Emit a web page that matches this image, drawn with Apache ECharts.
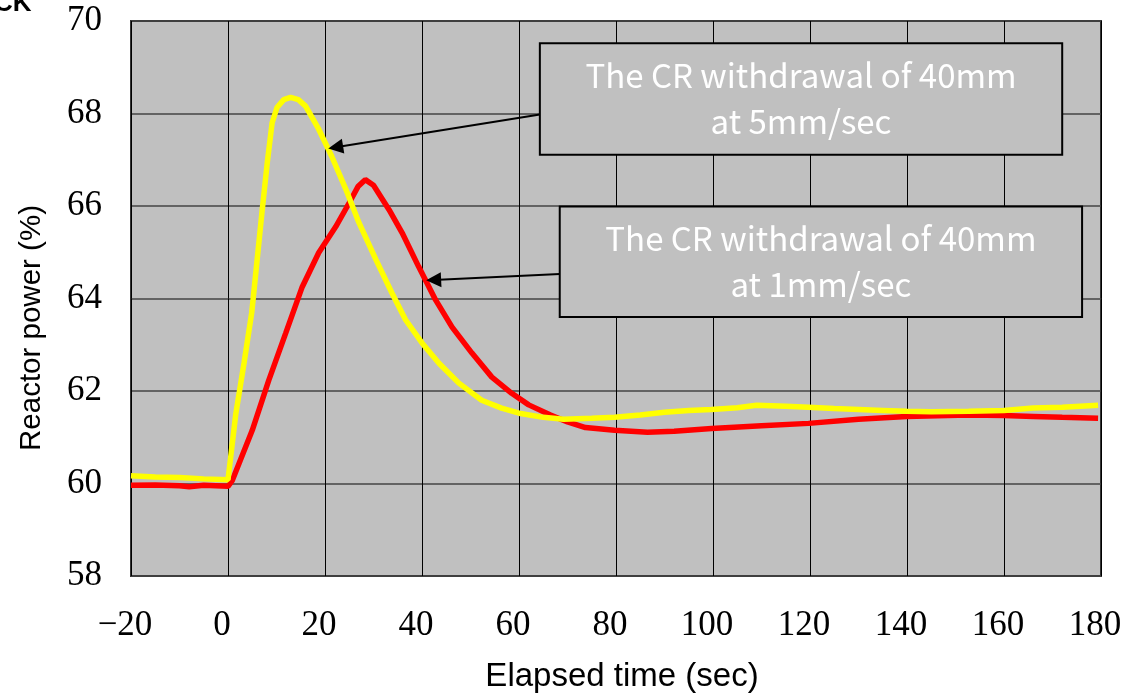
<!DOCTYPE html>
<html>
<head>
<meta charset="utf-8">
<script src="https://cdn.jsdelivr.net/npm/echarts@6/dist/echarts.min.js"></script>
<style>html,body{margin:0;padding:0;background:#fff;}#c{width:1127px;height:694px;}</style>
</head>
<body>
<div id="c"></div>
<script>
// ---- data ----
const xTicks = [-20, 0, 20, 40, 60, 80, 100, 120, 140, 160, 180];
const yTicks = [58, 60, 62, 64, 66, 68, 70];

const timeFast = [-20, -15, -10, -5, 0, 1.6, 3.3, 4.9, 7, 8.1, 9.1, 10.1, 11.5, 12.9, 14.5, 16, 18.7, 21.4, 24.3, 27, 30.5, 33.8, 36.6, 40, 43.5, 47.6, 52.3, 56.4, 60, 65, 69.2, 75, 79.7, 85, 90, 95, 99.7, 105, 109, 115, 119.7, 125, 130, 135, 139.9, 145, 152.7, 160, 166, 172, 179.4];
const powerFast = [60.17, 60.14, 60.13, 60.1, 60.08, 61.5, 62.6, 63.7, 65.86, 66.94, 67.8, 68.13, 68.3, 68.35, 68.3, 68.16, 67.66, 67.07, 66.36, 65.64, 64.84, 64.12, 63.54, 63.04, 62.6, 62.17, 61.8, 61.63, 61.52, 61.43, 61.39, 61.41, 61.43, 61.48, 61.54, 61.58, 61.6, 61.64, 61.69, 61.67, 61.65, 61.62, 61.6, 61.58, 61.56, 61.55, 61.56, 61.58, 61.63, 61.65, 61.69];

const timeSlow = [-20, -15, -10, -8, -5, 0, 0.9, 5, 8.4, 11.9, 15.3, 18.7, 22.2, 25, 26.8, 28.3, 30, 33.2, 35.9, 39.3, 42.8, 46.2, 50.3, 54.4, 58.5, 62, 66.5, 70, 73.7, 79.7, 86.5, 92, 99.7, 110, 119.7, 130, 139.9, 152.7, 160, 166, 172, 179.4];
const powerSlow = [59.96, 59.97, 59.95, 59.93, 59.96, 59.94, 60.07, 61.15, 62.23, 63.25, 64.25, 64.99, 65.55, 66.07, 66.42, 66.57, 66.45, 65.92, 65.42, 64.69, 63.97, 63.38, 62.82, 62.3, 61.95, 61.7, 61.48, 61.33, 61.21, 61.15, 61.11, 61.13, 61.19, 61.25, 61.3, 61.39, 61.45, 61.48, 61.47, 61.45, 61.43, 61.41];

const labelFast = 'The CR withdrawal of 40mm\nat 5mm/sec';
const labelSlow = 'The CR withdrawal of 40mm\nat 1mm/sec';

const chart = echarts.init(document.getElementById('c'), null, {renderer: 'canvas'});

const boxStyle = {color: '#c0c0c0', borderColor: '#000', borderWidth: 2, opacity: 1};
const boxLabel = {
  show: true, position: 'inside', color: '#fff', fontSize: 33,
  fontFamily: '"Noto Sans CJK JP", "Noto Sans", sans-serif',
  lineHeight: 46, align: 'center', padding: [18, 0, 0, 0]
};
const arrowLine = {
  silent: true, animation: false,
  symbol: ['none', 'triangle'], symbolSize: 15,
  lineStyle: {color: '#000', width: 2, type: 'solid'},
  label: {show: false}
};

chart.setOption({
  animation: false,
  backgroundColor: '#fff',
  grid: {
    left: 131, right: 26, top: 21, bottom: 118,
    show: true, backgroundColor: '#c0c0c0', borderColor: '#333', borderWidth: 2
  },
  xAxis: {
    type: 'value', min: -20, max: 180, interval: 20,
    axisLine: {show: false}, axisTick: {show: false},
    splitLine: {show: true, lineStyle: {color: '#000', width: 1}},
    axisLabel: {
      margin: 32, color: '#000', fontSize: 35, fontFamily: '"Liberation Serif", serif',
      padding: [0, 12, 0, 0],
      formatter: v => xTicks.includes(v) ? String(v).replace('-', '\u2212') : ''
    }
  },
  yAxis: {
    type: 'value', min: 58, max: 70, interval: 2,
    axisLine: {show: false}, axisTick: {show: false},
    splitLine: {show: true, lineStyle: {color: '#444', width: 1.5}},
    axisLabel: {
      margin: 29, color: '#000', fontSize: 35, fontFamily: '"Liberation Serif", serif',
      formatter: v => yTicks.includes(v) ? String(v) : ''
    }
  },
  series: [
    {
      name: '1mm/sec', type: 'line', showSymbol: false, symbol: 'none',
      lineStyle: {color: '#ff0000', width: 5.5}, itemStyle: {color: '#ff0000'},
      data: timeSlow.map((t, i) => [t, powerSlow[i]]),
      markArea: {
        silent: true, itemStyle: boxStyle, label: boxLabel,
        data: [[{coord: [68.4, 65.99], name: labelSlow}, {coord: [176.1, 63.6]}]]
      },
      markLine: Object.assign({}, arrowLine, {
        data: [[{coord: [68.4, 64.53]}, {coord: [42.4, 64.4]}]]
      })
    },
    {
      name: '5mm/sec', type: 'line', showSymbol: false, symbol: 'none',
      lineStyle: {color: '#ffff00', width: 5.5}, itemStyle: {color: '#ffff00'},
      data: timeFast.map((t, i) => [t, powerFast[i]]),
      markArea: {
        silent: true, itemStyle: boxStyle, label: boxLabel,
        data: [[{coord: [64.3, 69.52], name: labelFast}, {coord: [172.0, 67.11]}]]
      },
      markLine: Object.assign({}, arrowLine, {
        data: [[{coord: [64.3, 67.98]}, {coord: [22.2, 67.27]}]]
      })
    }
  ],
  graphic: [
    {
      type: 'text', left: -6, top: -9, silent: true,
      style: {text: 'CK', fontSize: 26, fontWeight: 'bold', fill: '#000',
        fontFamily: '"Liberation Sans", Arial, sans-serif'}
    },
    {
      type: 'text', x: 32, y: 328, rotation: Math.PI / 2, silent: true,
      style: {text: 'Reactor power (%)', fontSize: 29.5, fill: '#000',
        fontFamily: '"Liberation Sans", Arial, sans-serif', align: 'center', verticalAlign: 'middle'}
    },
    {
      type: 'text', x: 622, y: 677, silent: true,
      style: {text: 'Elapsed time (sec)', fontSize: 33, fill: '#000',
        fontFamily: '"Liberation Sans", Arial, sans-serif', align: 'center', verticalAlign: 'middle'}
    }
  ]
});
</script>
</body>
</html>
